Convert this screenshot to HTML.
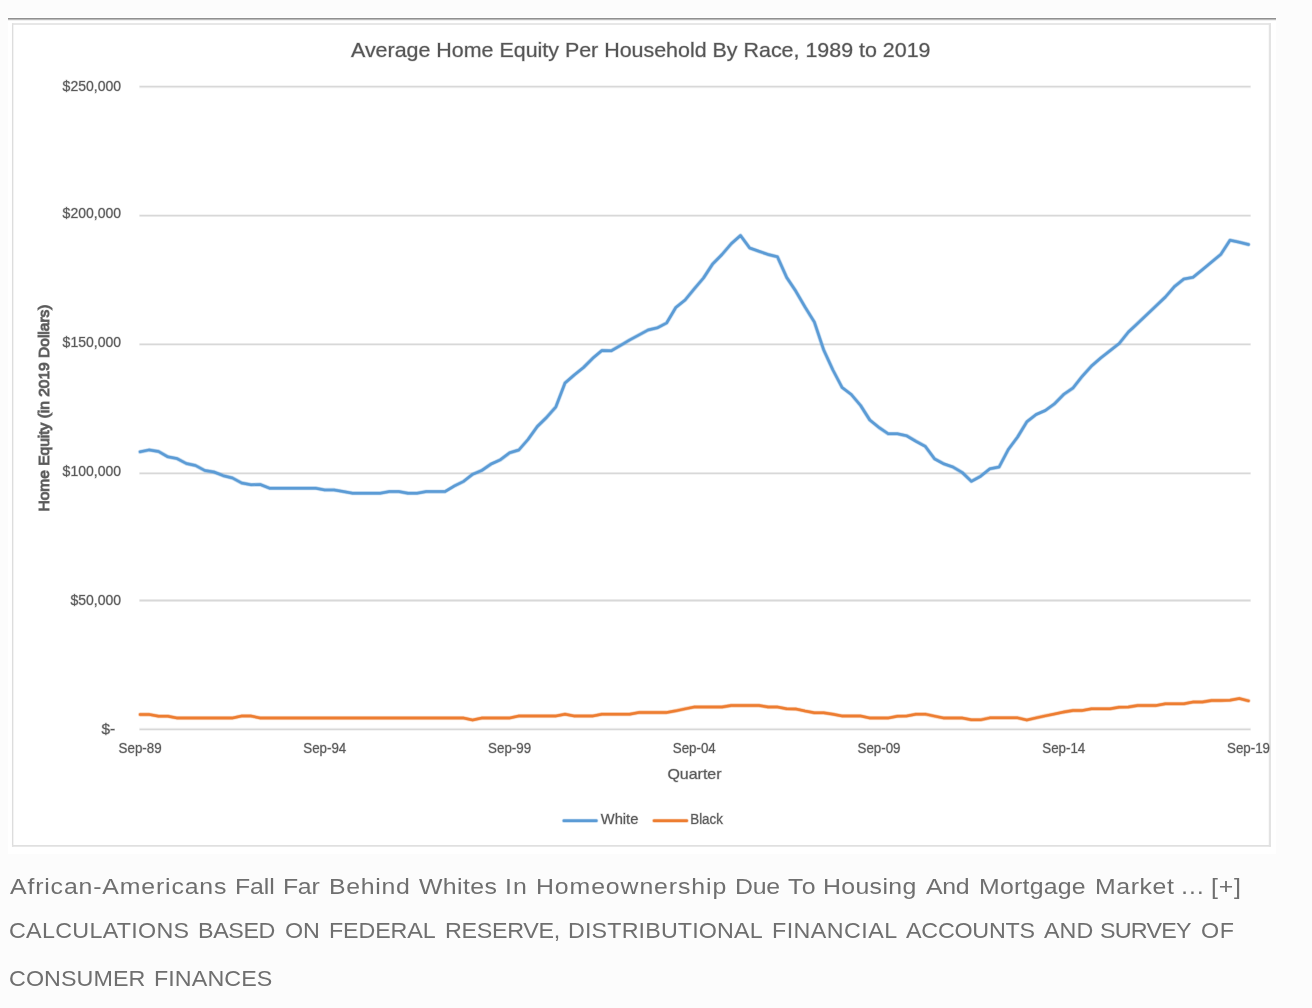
<!DOCTYPE html>
<html lang="en"><head><meta charset="utf-8"><title>Average Home Equity Per Household By Race</title>
<style>
html,body{margin:0;padding:0;}
body{width:1312px;height:1008px;background:#fcfcfc;position:relative;overflow:hidden;font-family:"Liberation Sans",sans-serif;}
#img{position:absolute;left:8px;top:17px;width:1268px;height:837px;background:#fff;}
#topline{position:absolute;left:8px;top:18px;width:1268px;height:1px;background:#909090;box-shadow:0 1px 0 #bababa,0 2px 0 #f0f0f0;}
#chart{position:absolute;left:0;top:0;will-change:transform;}
#caption{position:absolute;left:0;top:0;width:1312px;height:1008px;transform:translateZ(0);will-change:transform;}
.w{position:absolute;white-space:nowrap;color:#6f6f6f;transform-origin:0 50%;}
.l1{transform:scaleX(1.10);letter-spacing:0.418px;}
.l2{transform:scaleX(1.03);letter-spacing:-0.019px;}
.l3{transform:scaleX(1.03);letter-spacing:0.093px;}
.l1{font-size:22.6px;line-height:30px;top:871.6px;}
.l2{font-size:22.6px;line-height:30px;top:915.8px;}
.l3{font-size:22.6px;line-height:30px;top:963.6px;}
</style></head><body>
<div id="img"></div>
<div id="topline"></div>
<svg id="chart" width="1312" height="860" viewBox="0 0 1312 860">
<g>
<rect x="12" y="23.3" width="1259" height="823.4" fill="#fff"/>
<line x1="12.65" x2="12.65" y1="23.3" y2="846.7" stroke="#dddddd" stroke-width="1.4"/>
<line x1="12" x2="1271" y1="24" y2="24" stroke="#dfdfdf" stroke-width="1.5"/>
<line x1="1269.9" x2="1269.9" y1="23.3" y2="846.7" stroke="#e3e3e3" stroke-width="2.2"/>
<line x1="12" x2="1271" y1="845.9" y2="845.9" stroke="#e0e0e0" stroke-width="1.7"/>
<line x1="139.3" x2="1250.7" y1="86.7" y2="86.7" stroke="#d9d9d9" stroke-opacity="0.4" stroke-width="2.9"/>
<line x1="139.6" x2="1250.4" y1="86.7" y2="86.7" stroke="#d8d8d8" stroke-width="1.3"/>
<line x1="139.3" x2="1250.7" y1="215.6" y2="215.6" stroke="#d9d9d9" stroke-opacity="0.4" stroke-width="2.9"/>
<line x1="139.6" x2="1250.4" y1="215.6" y2="215.6" stroke="#d8d8d8" stroke-width="1.3"/>
<line x1="139.3" x2="1250.7" y1="344.4" y2="344.4" stroke="#d9d9d9" stroke-opacity="0.4" stroke-width="2.9"/>
<line x1="139.6" x2="1250.4" y1="344.4" y2="344.4" stroke="#d8d8d8" stroke-width="1.3"/>
<line x1="139.3" x2="1250.7" y1="473.4" y2="473.4" stroke="#d9d9d9" stroke-opacity="0.4" stroke-width="2.9"/>
<line x1="139.6" x2="1250.4" y1="473.4" y2="473.4" stroke="#d8d8d8" stroke-width="1.3"/>
<line x1="139.3" x2="1250.7" y1="600.5" y2="600.5" stroke="#d9d9d9" stroke-opacity="0.4" stroke-width="2.9"/>
<line x1="139.6" x2="1250.4" y1="600.5" y2="600.5" stroke="#d8d8d8" stroke-width="1.3"/>
<line x1="139.3" x2="1250.7" y1="729.3" y2="729.3" stroke="#d9d9d9" stroke-opacity="0.4" stroke-width="2.9"/>
<line x1="139.6" x2="1250.4" y1="729.3" y2="729.3" stroke="#d8d8d8" stroke-width="1.3"/>
</g>
<g font-family="Liberation Sans, sans-serif" fill="#595959" stroke="#595959" stroke-opacity="0.3" stroke-width="1.0" paint-order="stroke">
<text x="351" y="57" font-size="20.2" textLength="579.5" lengthAdjust="spacingAndGlyphs" fill="#555">Average Home Equity Per Household By Race, 1989 to 2019</text>
<text x="121" y="90.9" font-size="14" text-anchor="end">$250,000</text>
<text x="121" y="218.2" font-size="14" text-anchor="end">$200,000</text>
<text x="121" y="346.7" font-size="14" text-anchor="end">$150,000</text>
<text x="121" y="475.9" font-size="14" text-anchor="end">$100,000</text>
<text x="121" y="604.6" font-size="14" text-anchor="end">$50,000</text>
<text x="101.5" y="734.0" font-size="14" textLength="13.7" lengthAdjust="spacingAndGlyphs">$-</text>
<text x="118.6" y="752.7" font-size="14" textLength="43.0" lengthAdjust="spacingAndGlyphs">Sep-89</text>
<text x="303.3" y="752.7" font-size="14" textLength="43.0" lengthAdjust="spacingAndGlyphs">Sep-94</text>
<text x="488.1" y="752.7" font-size="14" textLength="43.0" lengthAdjust="spacingAndGlyphs">Sep-99</text>
<text x="672.8" y="752.7" font-size="14" textLength="43.0" lengthAdjust="spacingAndGlyphs">Sep-04</text>
<text x="857.5" y="752.7" font-size="14" textLength="43.0" lengthAdjust="spacingAndGlyphs">Sep-09</text>
<text x="1042.3" y="752.7" font-size="14" textLength="43.0" lengthAdjust="spacingAndGlyphs">Sep-14</text>
<text x="1227.0" y="752.7" font-size="14" textLength="43.0" lengthAdjust="spacingAndGlyphs">Sep-19</text>
<text x="667.4" y="778.6" font-size="14.5" textLength="54.2" lengthAdjust="spacingAndGlyphs">Quarter</text>
<text transform="translate(49.3,408) rotate(-90)" font-size="15" stroke="#595959" stroke-opacity="0.8" stroke-width="1.15" text-anchor="middle" textLength="207" lengthAdjust="spacingAndGlyphs">Home Equity (in 2019 Dollars)</text>
<text x="600.8" y="824" font-size="14" textLength="37.6" lengthAdjust="spacingAndGlyphs">White</text>
<text x="690.2" y="824" font-size="14" textLength="32.8" lengthAdjust="spacingAndGlyphs">Black</text>
</g>
<g fill="none" stroke-linejoin="round" stroke-linecap="round">
<line x1="563.9" x2="596.3" y1="820.7" y2="820.7" stroke="#5b9bd5" stroke-width="4.5" stroke-opacity="0.2"/><line x1="563.9" x2="596.3" y1="820.7" y2="820.7" stroke="#5b9bd5" stroke-width="3.3" stroke-opacity="0.45"/><line x1="563.9" x2="596.3" y1="820.7" y2="820.7" stroke="#5b9bd5" stroke-width="2.4"/>
<line x1="654.1" x2="686.7" y1="820.7" y2="820.7" stroke="#ed7d31" stroke-width="4.5" stroke-opacity="0.2"/><line x1="654.1" x2="686.7" y1="820.7" y2="820.7" stroke="#ed7d31" stroke-width="3.3" stroke-opacity="0.45"/><line x1="654.1" x2="686.7" y1="820.7" y2="820.7" stroke="#ed7d31" stroke-width="2.4"/>
<polyline points="140.1,451.8 149.3,449.9 158.6,451.5 167.8,456.8 177.0,458.6 186.3,463.5 195.5,465.5 204.8,470.5 214.0,472.0 223.2,475.7 232.5,478.0 241.7,483.0 250.9,484.7 260.2,484.5 269.4,488.2 278.6,488.2 287.9,488.2 297.1,488.2 306.4,488.2 315.6,488.2 324.8,489.9 334.1,489.9 343.3,491.6 352.5,493.2 361.8,493.2 371.0,493.2 380.3,493.2 389.5,491.6 398.7,491.6 408.0,493.2 417.2,493.2 426.4,491.6 435.7,491.6 444.9,491.6 454.1,486.1 463.4,481.5 472.6,474.3 481.9,470.4 491.1,464.0 500.3,459.8 509.6,452.8 518.8,450.0 528.0,439.5 537.3,426.5 546.5,417.5 555.8,407.0 565.0,383.0 574.2,375.0 583.5,367.5 592.7,358.3 601.9,350.5 611.2,350.8 620.4,345.5 629.6,340.0 638.9,335.0 648.1,330.0 657.4,327.8 666.6,323.0 675.8,307.5 685.1,300.0 694.3,288.8 703.5,278.0 712.8,263.8 722.0,254.5 731.2,243.8 740.5,235.5 749.7,248.0 759.0,251.3 768.2,254.5 777.4,256.8 786.7,277.5 795.9,291.3 805.1,307.2 814.4,322.2 823.6,349.7 832.9,370.0 842.1,387.5 851.3,394.5 860.6,405.5 869.8,420.0 879.0,427.5 888.3,433.8 897.5,433.8 906.7,435.8 916.0,441.3 925.2,446.3 934.5,458.8 943.7,463.8 952.9,467.0 962.2,472.5 971.4,481.3 980.6,476.3 989.9,468.8 999.1,467.0 1008.3,449.5 1017.6,437.0 1026.8,421.8 1036.1,414.5 1045.3,410.5 1054.5,403.8 1063.8,394.3 1073.0,388.0 1082.2,376.3 1091.5,366.0 1100.7,358.0 1110.0,350.7 1119.2,343.5 1128.4,332.0 1137.7,323.3 1146.9,314.6 1156.1,305.8 1165.4,297.0 1174.6,286.4 1183.8,279.1 1193.1,277.3 1202.3,269.7 1211.6,262.0 1220.8,254.4 1230.0,240.2 1239.3,242.2 1248.5,244.5" stroke="#5b9bd5" stroke-width="4.6" stroke-opacity="0.2"/><polyline points="140.1,451.8 149.3,449.9 158.6,451.5 167.8,456.8 177.0,458.6 186.3,463.5 195.5,465.5 204.8,470.5 214.0,472.0 223.2,475.7 232.5,478.0 241.7,483.0 250.9,484.7 260.2,484.5 269.4,488.2 278.6,488.2 287.9,488.2 297.1,488.2 306.4,488.2 315.6,488.2 324.8,489.9 334.1,489.9 343.3,491.6 352.5,493.2 361.8,493.2 371.0,493.2 380.3,493.2 389.5,491.6 398.7,491.6 408.0,493.2 417.2,493.2 426.4,491.6 435.7,491.6 444.9,491.6 454.1,486.1 463.4,481.5 472.6,474.3 481.9,470.4 491.1,464.0 500.3,459.8 509.6,452.8 518.8,450.0 528.0,439.5 537.3,426.5 546.5,417.5 555.8,407.0 565.0,383.0 574.2,375.0 583.5,367.5 592.7,358.3 601.9,350.5 611.2,350.8 620.4,345.5 629.6,340.0 638.9,335.0 648.1,330.0 657.4,327.8 666.6,323.0 675.8,307.5 685.1,300.0 694.3,288.8 703.5,278.0 712.8,263.8 722.0,254.5 731.2,243.8 740.5,235.5 749.7,248.0 759.0,251.3 768.2,254.5 777.4,256.8 786.7,277.5 795.9,291.3 805.1,307.2 814.4,322.2 823.6,349.7 832.9,370.0 842.1,387.5 851.3,394.5 860.6,405.5 869.8,420.0 879.0,427.5 888.3,433.8 897.5,433.8 906.7,435.8 916.0,441.3 925.2,446.3 934.5,458.8 943.7,463.8 952.9,467.0 962.2,472.5 971.4,481.3 980.6,476.3 989.9,468.8 999.1,467.0 1008.3,449.5 1017.6,437.0 1026.8,421.8 1036.1,414.5 1045.3,410.5 1054.5,403.8 1063.8,394.3 1073.0,388.0 1082.2,376.3 1091.5,366.0 1100.7,358.0 1110.0,350.7 1119.2,343.5 1128.4,332.0 1137.7,323.3 1146.9,314.6 1156.1,305.8 1165.4,297.0 1174.6,286.4 1183.8,279.1 1193.1,277.3 1202.3,269.7 1211.6,262.0 1220.8,254.4 1230.0,240.2 1239.3,242.2 1248.5,244.5" stroke="#5b9bd5" stroke-width="3.4" stroke-opacity="0.45"/><polyline points="140.1,451.8 149.3,449.9 158.6,451.5 167.8,456.8 177.0,458.6 186.3,463.5 195.5,465.5 204.8,470.5 214.0,472.0 223.2,475.7 232.5,478.0 241.7,483.0 250.9,484.7 260.2,484.5 269.4,488.2 278.6,488.2 287.9,488.2 297.1,488.2 306.4,488.2 315.6,488.2 324.8,489.9 334.1,489.9 343.3,491.6 352.5,493.2 361.8,493.2 371.0,493.2 380.3,493.2 389.5,491.6 398.7,491.6 408.0,493.2 417.2,493.2 426.4,491.6 435.7,491.6 444.9,491.6 454.1,486.1 463.4,481.5 472.6,474.3 481.9,470.4 491.1,464.0 500.3,459.8 509.6,452.8 518.8,450.0 528.0,439.5 537.3,426.5 546.5,417.5 555.8,407.0 565.0,383.0 574.2,375.0 583.5,367.5 592.7,358.3 601.9,350.5 611.2,350.8 620.4,345.5 629.6,340.0 638.9,335.0 648.1,330.0 657.4,327.8 666.6,323.0 675.8,307.5 685.1,300.0 694.3,288.8 703.5,278.0 712.8,263.8 722.0,254.5 731.2,243.8 740.5,235.5 749.7,248.0 759.0,251.3 768.2,254.5 777.4,256.8 786.7,277.5 795.9,291.3 805.1,307.2 814.4,322.2 823.6,349.7 832.9,370.0 842.1,387.5 851.3,394.5 860.6,405.5 869.8,420.0 879.0,427.5 888.3,433.8 897.5,433.8 906.7,435.8 916.0,441.3 925.2,446.3 934.5,458.8 943.7,463.8 952.9,467.0 962.2,472.5 971.4,481.3 980.6,476.3 989.9,468.8 999.1,467.0 1008.3,449.5 1017.6,437.0 1026.8,421.8 1036.1,414.5 1045.3,410.5 1054.5,403.8 1063.8,394.3 1073.0,388.0 1082.2,376.3 1091.5,366.0 1100.7,358.0 1110.0,350.7 1119.2,343.5 1128.4,332.0 1137.7,323.3 1146.9,314.6 1156.1,305.8 1165.4,297.0 1174.6,286.4 1183.8,279.1 1193.1,277.3 1202.3,269.7 1211.6,262.0 1220.8,254.4 1230.0,240.2 1239.3,242.2 1248.5,244.5" stroke="#5b9bd5" stroke-width="2.5"/>
<polyline points="140.1,714.5 149.3,714.5 158.6,716.2 167.8,716.2 177.0,718.0 186.3,718.0 195.5,718.0 204.8,718.0 214.0,718.0 223.2,718.0 232.5,718.0 241.7,716.0 250.9,716.0 260.2,718.0 269.4,718.0 278.6,718.0 287.9,718.0 297.1,718.0 306.4,718.0 315.6,718.0 324.8,718.0 334.1,718.0 343.3,718.0 352.5,718.0 361.8,718.0 371.0,718.0 380.3,718.0 389.5,718.0 398.7,718.0 408.0,718.0 417.2,718.0 426.4,718.0 435.7,718.0 444.9,718.0 454.1,718.0 463.4,718.0 472.6,720.0 481.9,718.0 491.1,718.0 500.3,718.0 509.6,718.0 518.8,716.0 528.0,716.0 537.3,716.0 546.5,716.0 555.8,716.0 565.0,714.2 574.2,716.0 583.5,716.0 592.7,716.0 601.9,714.2 611.2,714.2 620.4,714.2 629.6,714.2 638.9,712.5 648.1,712.5 657.4,712.5 666.6,712.5 675.8,710.8 685.1,708.8 694.3,707.0 703.5,707.0 712.8,707.0 722.0,707.0 731.2,705.5 740.5,705.5 749.7,705.5 759.0,705.5 768.2,707.0 777.4,707.0 786.7,708.8 795.9,709.0 805.1,711.0 814.4,712.8 823.6,712.8 832.9,714.2 842.1,716.0 851.3,716.0 860.6,716.0 869.8,718.0 879.0,718.0 888.3,718.0 897.5,716.2 906.7,716.0 916.0,714.2 925.2,714.2 934.5,716.2 943.7,718.0 952.9,718.0 962.2,718.0 971.4,719.8 980.6,719.8 989.9,717.8 999.1,717.8 1008.3,717.8 1017.6,717.8 1026.8,720.0 1036.1,717.8 1045.3,715.8 1054.5,714.0 1063.8,712.0 1073.0,710.5 1082.2,710.5 1091.5,708.8 1100.7,708.8 1110.0,708.8 1119.2,707.2 1128.4,707.0 1137.7,705.5 1146.9,705.5 1156.1,705.5 1165.4,703.8 1174.6,703.8 1183.8,703.8 1193.1,702.0 1202.3,702.0 1211.6,700.5 1220.8,700.5 1230.0,700.2 1239.3,698.5 1248.5,700.8" stroke="#ed7d31" stroke-width="4.5" stroke-opacity="0.2"/><polyline points="140.1,714.5 149.3,714.5 158.6,716.2 167.8,716.2 177.0,718.0 186.3,718.0 195.5,718.0 204.8,718.0 214.0,718.0 223.2,718.0 232.5,718.0 241.7,716.0 250.9,716.0 260.2,718.0 269.4,718.0 278.6,718.0 287.9,718.0 297.1,718.0 306.4,718.0 315.6,718.0 324.8,718.0 334.1,718.0 343.3,718.0 352.5,718.0 361.8,718.0 371.0,718.0 380.3,718.0 389.5,718.0 398.7,718.0 408.0,718.0 417.2,718.0 426.4,718.0 435.7,718.0 444.9,718.0 454.1,718.0 463.4,718.0 472.6,720.0 481.9,718.0 491.1,718.0 500.3,718.0 509.6,718.0 518.8,716.0 528.0,716.0 537.3,716.0 546.5,716.0 555.8,716.0 565.0,714.2 574.2,716.0 583.5,716.0 592.7,716.0 601.9,714.2 611.2,714.2 620.4,714.2 629.6,714.2 638.9,712.5 648.1,712.5 657.4,712.5 666.6,712.5 675.8,710.8 685.1,708.8 694.3,707.0 703.5,707.0 712.8,707.0 722.0,707.0 731.2,705.5 740.5,705.5 749.7,705.5 759.0,705.5 768.2,707.0 777.4,707.0 786.7,708.8 795.9,709.0 805.1,711.0 814.4,712.8 823.6,712.8 832.9,714.2 842.1,716.0 851.3,716.0 860.6,716.0 869.8,718.0 879.0,718.0 888.3,718.0 897.5,716.2 906.7,716.0 916.0,714.2 925.2,714.2 934.5,716.2 943.7,718.0 952.9,718.0 962.2,718.0 971.4,719.8 980.6,719.8 989.9,717.8 999.1,717.8 1008.3,717.8 1017.6,717.8 1026.8,720.0 1036.1,717.8 1045.3,715.8 1054.5,714.0 1063.8,712.0 1073.0,710.5 1082.2,710.5 1091.5,708.8 1100.7,708.8 1110.0,708.8 1119.2,707.2 1128.4,707.0 1137.7,705.5 1146.9,705.5 1156.1,705.5 1165.4,703.8 1174.6,703.8 1183.8,703.8 1193.1,702.0 1202.3,702.0 1211.6,700.5 1220.8,700.5 1230.0,700.2 1239.3,698.5 1248.5,700.8" stroke="#ed7d31" stroke-width="3.3" stroke-opacity="0.45"/><polyline points="140.1,714.5 149.3,714.5 158.6,716.2 167.8,716.2 177.0,718.0 186.3,718.0 195.5,718.0 204.8,718.0 214.0,718.0 223.2,718.0 232.5,718.0 241.7,716.0 250.9,716.0 260.2,718.0 269.4,718.0 278.6,718.0 287.9,718.0 297.1,718.0 306.4,718.0 315.6,718.0 324.8,718.0 334.1,718.0 343.3,718.0 352.5,718.0 361.8,718.0 371.0,718.0 380.3,718.0 389.5,718.0 398.7,718.0 408.0,718.0 417.2,718.0 426.4,718.0 435.7,718.0 444.9,718.0 454.1,718.0 463.4,718.0 472.6,720.0 481.9,718.0 491.1,718.0 500.3,718.0 509.6,718.0 518.8,716.0 528.0,716.0 537.3,716.0 546.5,716.0 555.8,716.0 565.0,714.2 574.2,716.0 583.5,716.0 592.7,716.0 601.9,714.2 611.2,714.2 620.4,714.2 629.6,714.2 638.9,712.5 648.1,712.5 657.4,712.5 666.6,712.5 675.8,710.8 685.1,708.8 694.3,707.0 703.5,707.0 712.8,707.0 722.0,707.0 731.2,705.5 740.5,705.5 749.7,705.5 759.0,705.5 768.2,707.0 777.4,707.0 786.7,708.8 795.9,709.0 805.1,711.0 814.4,712.8 823.6,712.8 832.9,714.2 842.1,716.0 851.3,716.0 860.6,716.0 869.8,718.0 879.0,718.0 888.3,718.0 897.5,716.2 906.7,716.0 916.0,714.2 925.2,714.2 934.5,716.2 943.7,718.0 952.9,718.0 962.2,718.0 971.4,719.8 980.6,719.8 989.9,717.8 999.1,717.8 1008.3,717.8 1017.6,717.8 1026.8,720.0 1036.1,717.8 1045.3,715.8 1054.5,714.0 1063.8,712.0 1073.0,710.5 1082.2,710.5 1091.5,708.8 1100.7,708.8 1110.0,708.8 1119.2,707.2 1128.4,707.0 1137.7,705.5 1146.9,705.5 1156.1,705.5 1165.4,703.8 1174.6,703.8 1183.8,703.8 1193.1,702.0 1202.3,702.0 1211.6,700.5 1220.8,700.5 1230.0,700.2 1239.3,698.5 1248.5,700.8" stroke="#ed7d31" stroke-width="2.4"/>
</g>
</svg>
<div id="caption">
<span class="w l1" style="left:10.00px;letter-spacing:0.76px">African-Americans</span>
<span class="w l1" style="left:235.40px;letter-spacing:-0.10px">Fall</span>
<span class="w l1" style="left:283.11px;letter-spacing:-0.28px">Far</span>
<span class="w l1" style="left:328.90px;letter-spacing:0.61px">Behind</span>
<span class="w l1" style="left:419.00px;letter-spacing:0.34px">Whites</span>
<span class="w l1" style="left:505.30px;letter-spacing:1.00px">In</span>
<span class="w l1" style="left:536.40px;letter-spacing:0.81px">Homeownership</span>
<span class="w l1" style="left:734.53px;letter-spacing:-0.28px">Due</span>
<span class="w l1" style="left:787.57px;letter-spacing:1.12px">To</span>
<span class="w l1" style="left:823.40px;letter-spacing:0.31px">Housing</span>
<span class="w l1" style="left:925.76px;letter-spacing:-0.28px">And</span>
<span class="w l1" style="left:978.90px;letter-spacing:0.22px">Mortgage</span>
<span class="w l1" style="left:1094.90px;letter-spacing:0.52px">Market</span>
<span class="w l1" style="left:1180.10px">…</span>
<span class="w l1" style="left:1211.40px;letter-spacing:0.76px">[+]</span>
<span class="w l2" style="left:8.97px;letter-spacing:0.30px">CALCULATIONS</span>
<span class="w l2" style="left:197.97px;letter-spacing:-0.37px">BASED</span>
<span class="w l2" style="left:284.97px">ON</span>
<span class="w l2" style="left:328.97px;letter-spacing:-0.12px">FEDERAL</span>
<span class="w l2" style="left:444.97px;letter-spacing:-0.27px">RESERVE,</span>
<span class="w l2" style="left:567.97px;letter-spacing:0.15px">DISTRIBUTIONAL</span>
<span class="w l2" style="left:772.47px;letter-spacing:0.43px">FINANCIAL</span>
<span class="w l2" style="left:906.00px;letter-spacing:-0.21px">ACCOUNTS</span>
<span class="w l2" style="left:1043.50px;letter-spacing:0.09px">AND</span>
<span class="w l2" style="left:1099.98px;letter-spacing:-0.72px">SURVEY</span>
<span class="w l2" style="left:1200.64px;letter-spacing:0.68px">OF</span>
<span class="w l3" style="left:8.97px">CONSUMER</span>
<span class="w l3" style="left:153.97px">FINANCES</span>
</div>
</body></html>
